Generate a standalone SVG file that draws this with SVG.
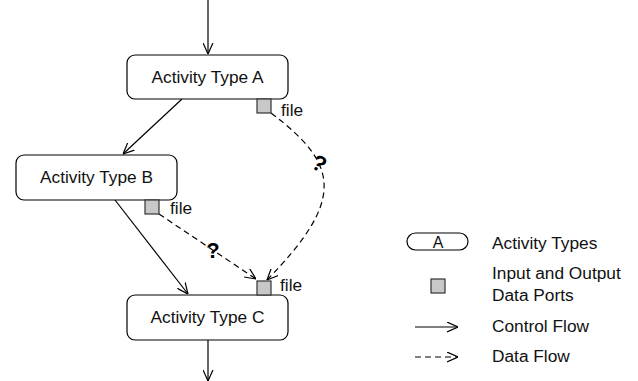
<svg xmlns="http://www.w3.org/2000/svg" width="638" height="381" viewBox="0 0 638 381">
<style>
.box{fill:#fff;stroke:#000;stroke-width:1.2}
.port{fill:#c8c8c8;stroke:#333;stroke-width:1.2}
.t{font-family:"Liberation Sans",Arial,sans-serif;font-size:17.3px;fill:#111}
.tc{text-anchor:middle}
.ctl{fill:none;stroke:#000;stroke-width:1.2;marker-end:url(#ah)}
.dat{fill:none;stroke:#000;stroke-width:1.2;stroke-dasharray:6 4;marker-end:url(#ah)}
.q{font-family:"Liberation Sans",Arial,sans-serif;font-size:22px;font-weight:bold;fill:#000;text-anchor:middle}
</style>
<defs>
<marker id="ah" viewBox="0 0 10 10" refX="10" refY="5" markerWidth="11" markerHeight="11" markerUnits="userSpaceOnUse" orient="auto">
<path d="M0,0.5 L10,5 L0,9.5" fill="none" stroke="#000" stroke-width="1.1"/>
</marker>
</defs>
<g id="connectors">
<line class="ctl" x1="208" y1="0" x2="208" y2="54"/>
<line class="ctl" x1="182" y1="99" x2="123" y2="154"/>
<line class="ctl" x1="115" y1="200" x2="188" y2="294"/>
<line class="ctl" x1="208" y1="340" x2="208" y2="381"/>
<path class="dat" d="M159,214 L256,279"/>
<path class="dat" d="M271,113 C340,165 345,200 267,280"/>
<text class="q" x="213" y="258">?</text>
<text class="q" x="319" y="171" transform="rotate(28 319 164)">?</text>
</g>
<g id="activityA">
<rect class="box" x="127" y="55" width="161" height="44" rx="8"/>
<text class="t tc" x="207.5" y="83">Activity Type A</text>
</g>
<g id="portA">
<rect class="port" x="257" y="99" width="14" height="14"/>
<text class="t" x="281" y="116">file</text>
</g>
<g id="activityB">
<rect class="box" x="16" y="155" width="161" height="45" rx="8"/>
<text class="t tc" x="96.5" y="183">Activity Type B</text>
</g>
<g id="portB">
<rect class="port" x="145" y="200" width="14" height="14"/>
<text class="t" x="170" y="214">file</text>
</g>
<g id="activityC">
<rect class="box" x="127" y="295" width="161" height="45" rx="8"/>
<text class="t tc" x="207.5" y="323">Activity Type C</text>
</g>
<g id="portC">
<rect class="port" x="257" y="281" width="14" height="14"/>
<text class="t" x="280" y="291">file</text>
</g>
<g id="legend">
<rect class="box" x="407" y="233" width="61" height="17" rx="8.5"/>
<text class="t tc" x="438" y="248" style="font-size:16px">A</text>
<text class="t" x="492" y="249">Activity Types</text>
<rect class="port" x="431" y="279" width="14" height="14"/>
<text class="t" x="492" y="279">Input and Output</text>
<text class="t" x="492" y="301">Data Ports</text>
<line class="ctl" x1="415" y1="327" x2="458" y2="327"/>
<text class="t" x="492" y="332">Control Flow</text>
<line class="dat" x1="415" y1="357" x2="458" y2="357"/>
<text class="t" x="492" y="362">Data Flow</text>
</g>
</svg>
